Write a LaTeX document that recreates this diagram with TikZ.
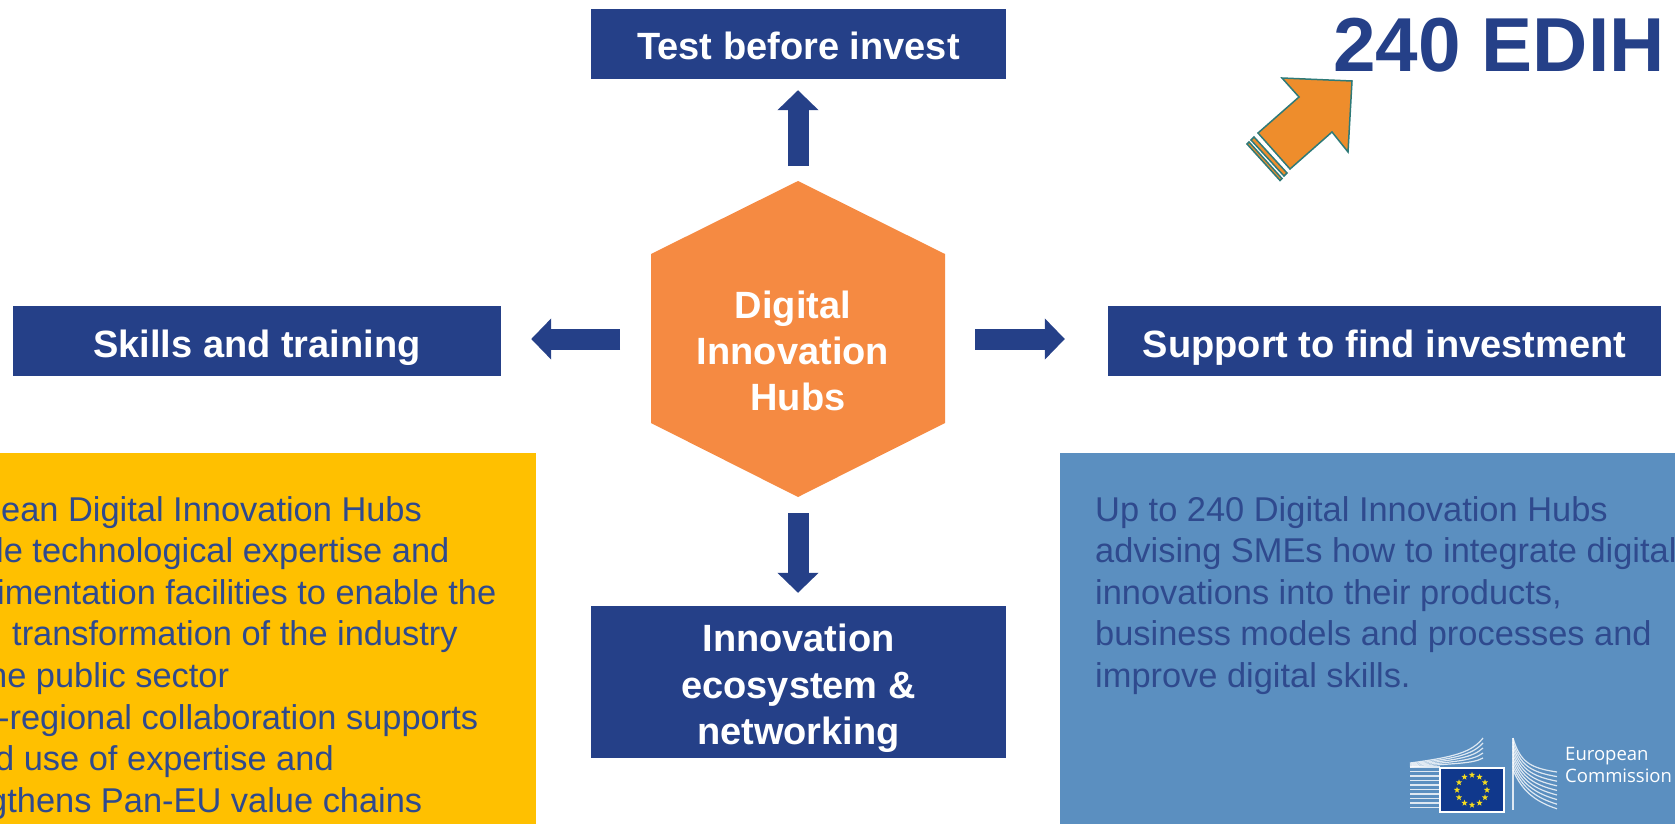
\documentclass[tikz,border=0pt]{standalone}
\usepackage{fontspec}
\setmainfont{Liberation Sans}
\newfontfamily\logofont{Open Sans}
\usetikzlibrary{
arrows.meta,
calc,
positioning,
shapes.geometric
}
\definecolor{hubblue}{HTML}{254088}
\definecolor{huborange}{HTML}{F58A42}
\definecolor{panelyellow}{HTML}{FFC000}
\definecolor{panelblue}{HTML}{5B8FC0}
\definecolor{bodyblue}{HTML}{2F4A8E}
\definecolor{tiltorange}{HTML}{EE8D2C}
\definecolor{tiltedge}{HTML}{2E7A78}
\definecolor{flagblue}{HTML}{10388C}
\definecolor{staryellow}{HTML}{F5DC1E}
\tikzset{
	serviceboxstyle/.style={fill=hubblue,text=white,inner sep=0,align=center,font=\fontsize{38}{46.5}\selectfont\bfseries},
	bigarrow/.style={draw=hubblue,line width=21pt,-{Triangle[length=20pt,width=40pt]}},
	panelstyle/.style={inner sep=0,outer sep=0,anchor=north west},
	bodyline/.style={inner sep=0,anchor=base west,text=bodyblue,font=\fontsize{34.4}{41.6}\selectfont},
	tiltband/.style={fill=tiltorange,draw=tiltedge,line width=1.5pt}
}

\begin{document}
\begin{tikzpicture}[x=1pt,y=-1pt]
		\useasboundingbox (0,0) rectangle (1675,824);

		% panels first, the rest sits on top.
		\node[panelstyle,fill=panelyellow,minimum width=536pt,minimum height=371pt] (leftpanel) at (0,453) {};
		\node[panelstyle,fill=panelblue,minimum width=615pt,minimum height=371pt] (rightpanel) at (1060,453) {};

		\node[serviceboxstyle,minimum width=415pt,minimum height=70pt,text height=32pt,text depth=0pt] (test) at (798.5,44) {Test before invest};
		\node[serviceboxstyle,minimum width=488pt,minimum height=70pt,text height=32pt,text depth=0pt] (skills) at (257,341) {Skills and training};
		\node[serviceboxstyle,minimum width=553pt,minimum height=70pt,text height=32pt,text depth=0pt] (support) at (1384.5,341) {Support to find investment};
		\node[serviceboxstyle,minimum width=415pt,minimum height=152pt] (ecosystem) at (798.5,682) {\rule{0pt}{41pt}Innovation\\ecosystem \&\\networking};

		% hexagon.
		\coordinate (hextop) at (798,181);
		\coordinate (hexbottom) at (798,497);
		\coordinate (hexleft) at (651,339);
		\coordinate (hexright) at (945,339);
		\fill[huborange] (hextop) -- (945,254) -- (945,423) -- (hexbottom) -- (651,423) -- (651,254) -- cycle;
		\node[inner sep=0,text=white,align=center,font=\fontsize{38}{46}\selectfont\bfseries] (hub) at (793,351) {Digital\\Innovation\\\hspace{10pt}Hubs};

		% connectors.
		\draw[bigarrow,shorten <=15pt,shorten >=11pt] (hextop) -- (hextop |- test.south);
		\draw[bigarrow,shorten <=16pt,shorten >=13pt] (hexbottom) -- (hexbottom |- ecosystem.north);
		\draw[bigarrow,shorten <=31pt,shorten >=30pt] (hexleft) -- (hexleft -| skills.east);
		\draw[bigarrow,shorten <=30pt,shorten >=43pt] (hexright) -- (hexright -| support.west);

		% tilted arrow.
		\node[inner sep=0,anchor=base east,text=hubblue,font=\fontsize{76.5}{78}\selectfont\bfseries] (edih) at (1665,72) {240 EDIH};
		\filldraw[fill=tiltorange,draw=tiltedge,line width=1.5pt] (1352,81) -- (1282,78) -- (1299,97) -- (1258,133) -- (1290,169) -- (1332,132) -- (1348,152) -- cycle;
		\filldraw[tiltband] (1254,137) -- (1287,173) -- (1284,176) -- (1251,140) -- cycle;
		\filldraw[tiltband] (1249,142) -- (1282,178.5) -- (1280,180.5) -- (1247,144) -- cycle;

		% left panel, cut by the page edge.
		\foreach \px/\py/\linetext/\linename in {
			1/521/ean Digital Innovation Hubs/la,
			-4/562.6/le technological expertise and/lb,
			-3/604.2/imentation facilities to enable the/lc,
			12/645.8/transformation of the industry/ld,
			-12/687.4/he public sector/le,
			-2/729/-regional collaboration supports/lf,
			-5/770.6/d use of expertise and/lg,
			-12/812.2/gthens Pan-EU value chains/lh}
			\node[bodyline] (\linename) at (\px,\py) {\linetext};

		\node[bodyline,align=left,anchor=north west,text=bodyblue] (rightbody) at (1095,496) {Up to 240 Digital Innovation Hubs\\advising SMEs how to integrate digital\\innovations into their products,\\business models and processes and\\improve digital skills.};

		% logo.
		\foreach \yy in {767,771.5,...,809}
			\draw[white,opacity=0.8,line width=1.6pt] (1410,\yy) -- (1440,\yy);
		\foreach \k in {0,1,2,3,4}
			\draw[white,opacity=0.8,line width=1.2pt] (1410,{763-\k*0}) ++(0,{\k*1}) .. controls ({1455},{757+\k*1.5}) and ({1472},{752+\k*3}) .. ({1483},{738+\k*5});
		\foreach \k in {0,1,...,8}
			\draw[white,opacity=0.8,line width=1.2pt] (1513,{738+\k*4}) .. controls ({1520},{762+\k*3}) and ({1530},{768+\k*4}) .. (1557,{772+\k*4.6});
		\draw[white,opacity=0.8,line width=1.2pt] (1513,738) -- (1513,810);
		\node[fill=flagblue,draw=white,line width=1.2pt,inner sep=0,minimum width=64pt,minimum height=44pt] (flag) at (1472,790) {};
		\foreach \a in {0,30,...,330}
			\node[star,star points=5,star point ratio=2.4,fill=staryellow,inner sep=0,minimum size=6.5pt] (star\a) at ($(flag)+(\a:15pt)$) {};
		\node[inner sep=0,anchor=base west,text=white,align=left,font=\logofont\fontsize{18.5}{22}\selectfont] (commission) at (1565,782) {European\\Commission};
	\end{tikzpicture}
\end{document}
